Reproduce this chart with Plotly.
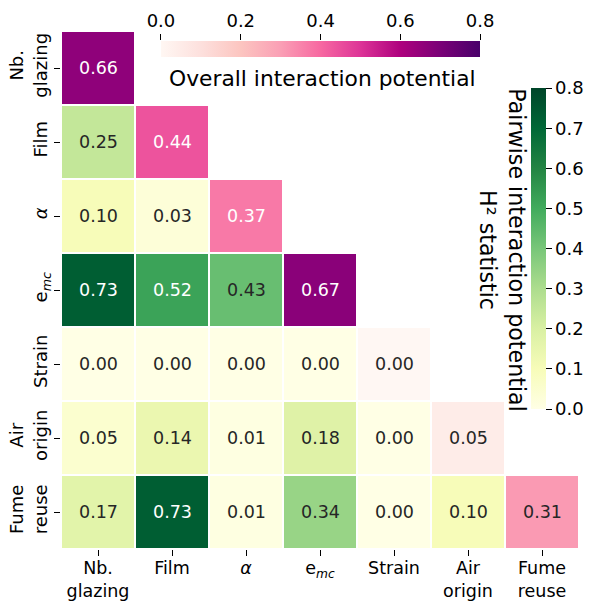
import plotly.graph_objects as go

# Factor names (rows top->bottom, columns left->right)
labels = ["Nb.<br>glazing", "Film", "<i>α</i>", "e<sub><i>mc</i></sub>",
          "Strain", "Air<br>origin", "Fume<br>reuse"]

# Overall interaction potential (diagonal)
overall = [0.66, 0.44, 0.37, 0.67, 0.00, 0.05, 0.31]

# Pairwise H² statistic (lower triangle, row i holds columns 0..i-1)
pairwise = [
    [],
    [0.25],
    [0.10, 0.03],
    [0.73, 0.52, 0.43],
    [0.00, 0.00, 0.00, 0.00],
    [0.05, 0.14, 0.01, 0.18, 0.00],
    [0.17, 0.73, 0.01, 0.34, 0.00, 0.10],
]

overall_ticks = [0.0, 0.2, 0.4, 0.6, 0.8]
pairwise_ticks = [0.0, 0.1, 0.2, 0.3, 0.4, 0.5, 0.6, 0.7, 0.8]
vmax = 0.8

RDPU = ["#fff7f3", "#fde0dd", "#fcc5c0", "#fa9fb5", "#f768a1",
        "#dd3497", "#ae017e", "#7a0177", "#49006a"]
YLGN = ["#ffffe5", "#f7fcb9", "#d9f0a3", "#addd8e", "#78c679",
        "#41ab5d", "#238443", "#006837", "#004529"]

FONT = "DejaVu Sans"


def hex_rgb(h):
    h = h.lstrip("#")
    return [int(h[k:k + 2], 16) / 255 for k in (0, 2, 4)]


def cmap(colors, v):
    t = min(max(v / vmax, 0.0), 1.0) * (len(colors) - 1)
    k = min(int(t), len(colors) - 2)
    f = t - k
    a, b = hex_rgb(colors[k]), hex_rgb(colors[k + 1])
    return [a[c] + (b[c] - a[c]) * f for c in range(3)]


def luminance(rgb):
    lin = [c / 12.92 if c <= 0.03928 else ((c + 0.055) / 1.055) ** 2.4 for c in rgb]
    return 0.2126 * lin[0] + 0.7152 * lin[1] + 0.0722 * lin[2]


n = len(labels)
z_pair = [[pairwise[i][j] if j < i else None for j in range(n)] for i in range(n)]
z_diag = [[overall[i] if j == i else None for j in range(n)] for i in range(n)]

fig = go.Figure()
fig.add_trace(go.Heatmap(z=z_pair, x=list(range(n)), y=list(range(n)),
                         coloraxis="coloraxis", xgap=2, ygap=2,
                         hoverongaps=False))
fig.add_trace(go.Heatmap(z=z_diag, x=list(range(n)), y=list(range(n)),
                         coloraxis="coloraxis2", xgap=2, ygap=2,
                         hoverongaps=False))
# carrier trace for the tick axis above the horizontal colour bar
fig.add_trace(go.Scatter(x=overall_ticks, y=[0.5] * len(overall_ticks),
                         xaxis="x2", yaxis="y2", mode="none",
                         hoverinfo="skip", showlegend=False))

annotations = []
for i in range(n):
    for j in range(i + 1):
        if j == i:
            v, colors = overall[i], RDPU
        else:
            v, colors = pairwise[i][j], YLGN
        col = "#262626" if luminance(cmap(colors, v)) > 0.408 else "#ffffff"
        annotations.append(dict(x=j, y=i, xref="x", yref="y", text=f"{v:.2f}",
                                showarrow=False,
                                font=dict(family=FONT, size=17.5, color=col)))

annotations.append(dict(x=0.504, y=0.909, xref="paper", yref="paper",
                        text="Overall interaction potential", showarrow=False,
                        xanchor="center", yanchor="middle",
                        font=dict(family=FONT, size=21.8, color="#000000")))
annotations.append(dict(x=0.853, y=0.577, xref="paper", yref="paper",
                        text="Pairwise interaction potential<br>H² statistic",
                        textangle=90, showarrow=False,
                        xanchor="center", yanchor="middle",
                        font=dict(family=FONT, size=22.2, color="#000000")))

tickfont = dict(family=FONT, size=18, color="#000000")

fig.update_layout(
    width=589, height=603,
    margin=dict(l=61, r=10, t=31, b=54, autoexpand=False),
    paper_bgcolor="white", plot_bgcolor="white",
    font=dict(family=FONT, color="#000000"),
    showlegend=False,
    coloraxis=dict(
        colorscale=YLGN, cmin=0, cmax=vmax,
        colorbar=dict(x=0.9073, xanchor="left", y=0.580, yanchor="middle",
                      len=0.62, lenmode="fraction", thickness=15,
                      xpad=0, ypad=0, outlinewidth=0,
                      ticks="outside", ticklen=6, tickwidth=1, tickcolor="#000000",
                      tickvals=pairwise_ticks,
                      ticktext=[f"{t:.1f}" for t in pairwise_ticks],
                      tickfont=tickfont),
    ),
    coloraxis2=dict(
        colorscale=RDPU, cmin=0, cmax=vmax,
        colorbar=dict(orientation="h", x=0.501, xanchor="center",
                      y=0.9653, yanchor="middle",
                      len=0.616, lenmode="fraction", thickness=16,
                      xpad=0, ypad=0, outlinewidth=0,
                      ticks="", showticklabels=False),
    ),
    xaxis=dict(range=[-0.5, n - 0.5], domain=[0, 1], tickvals=list(range(n)),
               ticktext=labels, ticks="outside", ticklen=6, tickwidth=1,
               tickcolor="#000000", showgrid=False, zeroline=False,
               showline=False, tickfont=dict(family=FONT, size=17.5, color="#000000"),
               ticklabelstandoff=-3, automargin=False),
    yaxis=dict(range=[n - 0.5, -0.5], domain=[0, 1], tickvals=list(range(n)),
               ticktext=labels, ticks="outside", ticklen=6, tickwidth=1,
               tickcolor="#000000", showgrid=False, zeroline=False,
               showline=False, tickangle=-90, tickfont=tickfont,
               automargin=False),
    xaxis2=dict(domain=[0.193, 0.809], anchor="y2", side="top",
                range=[0, vmax], tickvals=overall_ticks,
                ticktext=[f"{t:.1f}" for t in overall_ticks],
                ticks="outside", ticklen=6, tickwidth=1, tickcolor="#000000",
                showgrid=False, zeroline=False, showline=False,
                tickfont=tickfont, fixedrange=True, automargin=False),
    yaxis2=dict(domain=[0.9498, 0.9807], anchor="x2", range=[0, 1],
                visible=False, fixedrange=True),
    annotations=annotations,
)

fig.write_html("out.html")
